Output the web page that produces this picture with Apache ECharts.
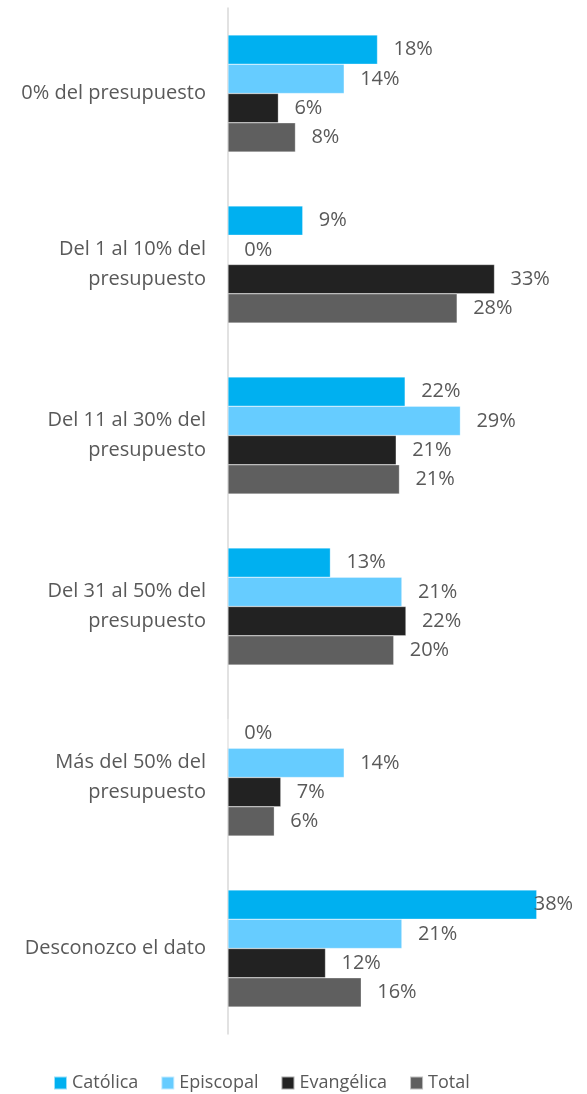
<!DOCTYPE html>
<html><head><meta charset="utf-8">
<script src="https://cdn.jsdelivr.net/npm/echarts@6/dist/echarts.min.js"></script>
<style>html,body{margin:0;padding:0;background:#fff}#c{width:587px;height:1094px}</style>
</head><body><div id="c"></div>
<script>
const categories = ["0% del presupuesto", "Del 1 al 10% del\npresupuesto", "Del 11 al 30% del\npresupuesto", "Del 31 al 50% del\npresupuesto", "Más del 50% del\npresupuesto", "Desconozco el dato"];
const catolica   = [18.4, 9.2, 21.8, 12.6, 0, 38.0];
const episcopal  = [14.3, 0, 28.6, 21.4, 14.3, 21.4];
const evangelica = [6.2, 32.8, 20.7, 21.9, 6.5, 12.0];
const total      = [8.3, 28.2, 21.1, 20.4, 5.7, 16.4];
const seriesNames = ["Católica", "Episcopal", "Evangélica", "Total"];
const colors = ["#00B0F0", "#66CCFF", "#222222", "#5F5F5F"];
const xMax = 40;

const FONT = "'Open Sans', sans-serif";
const chart = echarts.init(document.getElementById('c'));
const allData = [catolica, episcopal, evangelica, total];
const series = allData.map((arr, i) => ({
  name: seriesNames[i],
  type: 'bar',
  barGap: '0%',
  barCategoryGap: '31.5%',
  itemStyle: { color: colors[i], borderColor: 'rgba(255,255,255,0.6)', borderWidth: 0.5 },
  label: {
    show: true, position: 'right', distance: 16,
    color: '#595959', fontSize: 20, fontFamily: FONT,
    formatter: p => Math.round(p.value) + '%'
  },
  data: arr.map(v => v > 36 ? { value: v, label: { distance: -3 } } : v)
}));

chart.setOption({
  animation: false,
  textStyle: { fontFamily: FONT },
  grid: { left: 228, width: 325, top: 8, height: 1026 },
  xAxis: { type: 'value', min: 0, max: xMax, show: false },
  yAxis: {
    type: 'category', data: categories, inverse: true,
    axisLine: { show: true, lineStyle: { color: '#D9D9D9', width: 1.5 } },
    axisTick: { show: false },
    axisLabel: { color: '#595959', fontSize: 20, fontFamily: FONT, margin: 22, lineHeight: 30, align: 'right' }
  },
  legend: {
    top: 1074, left: 53, padding: 0, itemWidth: 13, itemHeight: 13, itemGap: 22,
    icon: 'rect',
    textStyle: { color: '#595959', fontSize: 18, fontFamily: FONT },
    data: seriesNames
  },
  series: series
});
</script></body></html>
